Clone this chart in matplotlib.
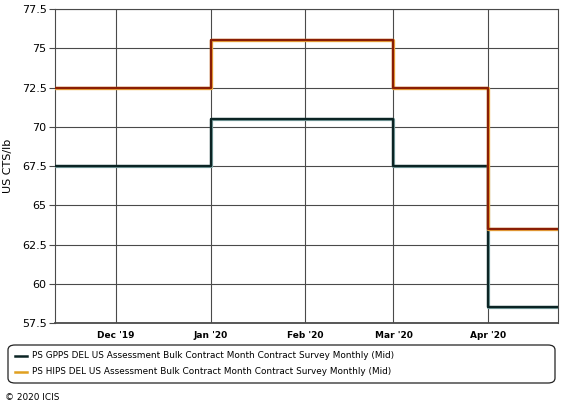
import matplotlib
matplotlib.use("Agg")
import matplotlib.pyplot as plt
import matplotlib.patheffects as pe
from matplotlib.patches import FancyBboxPatch
import datetime as dt

months = ["2019-11-01", "2019-12-01", "2020-01-01", "2020-02-01", "2020-03-01", "2020-04-01", "2020-05-01"]
gpps = [67.5, 67.5, 70.5, 70.5, 67.5, 58.5, 58.5]
hips = [72.5, 72.5, 75.5, 75.5, 72.5, 63.5, 63.5]
gpps_label = "PS GPPS DEL US Assessment Bulk Contract Month Contract Survey Monthly (Mid)"
hips_label = "PS HIPS DEL US Assessment Bulk Contract Month Contract Survey Monthly (Mid)"
yticks = [57.5, 60, 62.5, 65, 67.5, 70, 72.5, 75, 77.5]
ytick_labels = ["57.5", "60", "62.5", "65", "67.5", "70", "72.5", "75", "77.5"]
tick_months = ["2019-12-01", "2020-01-01", "2020-02-01", "2020-03-01", "2020-04-01"]
xtick_labels = ["Dec '19", "Jan '20", "Feb '20", "Mar '20", "Apr '20"]

dates = [dt.datetime.strptime(d, "%Y-%m-%d") for d in months]
tdates = [dt.datetime.strptime(d, "%Y-%m-%d") for d in tick_months]

fig = plt.figure(figsize=(5.76, 4.12), dpi=100)
fig.patch.set_facecolor("white")

ax = fig.add_axes([0.0955, 0.216, 0.969 - 0.0955, 0.978 - 0.216])
ax.set_facecolor("white")

ax.plot(dates, gpps, drawstyle="steps-post", color="#0b2424", lw=1.7,
        path_effects=[pe.Stroke(linewidth=2.3, foreground="#7fa6a6"), pe.Normal()], zorder=3,
        label=gpps_label)
ax.plot(dates, hips, drawstyle="steps-post", color="#8a1e05", lw=1.7,
        path_effects=[pe.Stroke(linewidth=2.4, foreground="#f2b040"), pe.Normal()], zorder=4,
        label=hips_label)

ax.set_xlim(dt.datetime(2019, 11, 11), dt.datetime(2020, 4, 24))
ax.set_ylim(57.5, 77.5)
ax.set_yticks(yticks)
ax.set_yticklabels(ytick_labels)
ax.set_xticks(tdates)
ax.set_xticklabels(xtick_labels)
ax.grid(True, color="#4a4a4a", lw=0.8)
ax.set_axisbelow(True)
for s in ax.spines.values():
    s.set_color("#4a4a4a")
    s.set_linewidth(0.8)
ax.spines["bottom"].set_linewidth(1.3)
ax.tick_params(axis="y", length=4, color="#4a4a4a", labelsize=8, pad=2)
ax.tick_params(axis="x", length=0, labelsize=6.5, pad=6)
for lbl in ax.get_xticklabels():
    lbl.set_fontweight("bold")
ax.set_ylabel("US CTS/lb", fontsize=8, labelpad=6)

# legend box
lb = FancyBboxPatch((8/576, 1 - 383/412), (555-8)/576, (383-345)/412,
                    boxstyle="round,pad=0,rounding_size=0.012", transform=fig.transFigure,
                    facecolor="white", edgecolor="#222222", lw=0.9)
fig.patches.append(lb)
for y, col, lab in [(356, "#0b2424", gpps_label), (372, "#e0a020", hips_label)]:
    yy = 1 - y/412
    fig.add_artist(plt.Line2D([15/576, 27/576], [yy, yy], transform=fig.transFigure, color=col, lw=1.8))
    fig.text(32/576, yy, lab, fontsize=6.4, va="center", ha="left")

fig.text(5/576, 1 - 398/412, "© 2020 ICIS", fontsize=6.4, va="center", ha="left")

fig.savefig("out.png", dpi=100, facecolor="white")
